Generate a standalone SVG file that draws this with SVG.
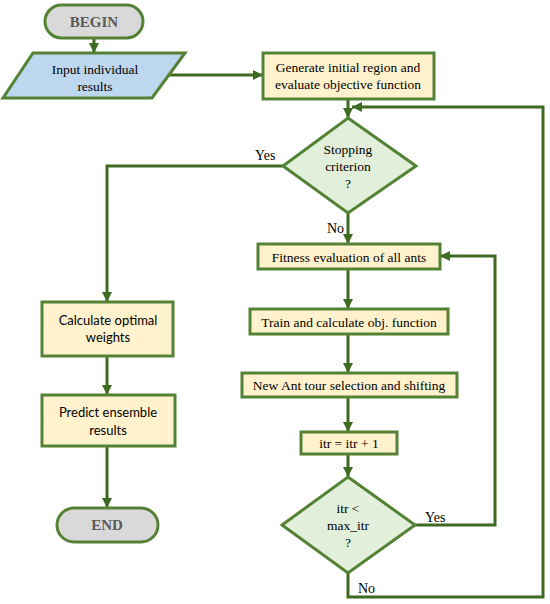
<svg xmlns="http://www.w3.org/2000/svg" width="550" height="604" viewBox="0 0 550 604">
<defs>
<marker id="ah" markerUnits="userSpaceOnUse" markerWidth="10" markerHeight="10" viewBox="0 0 10 10" refX="10" refY="5" orient="auto">
<path d="M0,0 L10,5 L0,10 z" fill="#3d6b21"/>
</marker>
</defs>
<style>
.box{fill:#fff2cc;stroke:#548235;stroke-width:3}
.dia{fill:#e2efda;stroke:#548235;stroke-width:3}
.term{fill:#d9d9d9;stroke:#548235;stroke-width:3}
.io{fill:#bdd7ee;stroke:#548235;stroke-width:3}
.ca{fill:none;stroke:#3d6b21;stroke-width:3;marker-end:url(#ah)}
.s{font-family:"Liberation Serif",serif;font-size:13.5px;fill:#000;text-anchor:middle}
.ss{font-family:Lato,"Open Sans",sans-serif;font-size:13px;fill:#000;text-anchor:middle}
.t{font-family:"Liberation Serif",serif;font-size:15px;font-weight:bold;fill:#595959;text-anchor:middle}
.l{font-family:"Liberation Serif",serif;font-size:14px;fill:#000}
</style>
<rect width="550" height="604" fill="#fff"/>
<g id="connectors">
<path class="ca" d="M94,38 V53"/>
<path class="ca" d="M168,75 H263"/>
<path class="ca" d="M348,99 V118"/>
<path class="ca" d="M283,166 H107 V302"/>
<path class="ca" d="M348,213 V244"/>
<path class="ca" d="M348,269 V309"/>
<path class="ca" d="M348,334 V373"/>
<path class="ca" d="M348,397 V432"/>
<path class="ca" d="M348,454 V477"/>
<path class="ca" d="M415,525 H495 V256 H440"/>
<path class="ca" d="M348,573 V597 H543 V107 H352"/>
<path class="ca" d="M107,356 V395"/>
<path class="ca" d="M107,446 V508"/>
<text class="l" x="255" y="160">Yes</text>
<text class="l" x="327" y="233">No</text>
<text class="l" x="425" y="522">Yes</text>
<text class="l" x="358" y="593">No</text>
</g>
<g id="begin">
<rect class="term" x="45" y="5" width="98" height="33" rx="16.5"/>
<text class="t" x="94" y="27">BEGIN</text>
</g>
<g id="input">
<polygon class="io" points="33,53 185,53 152,98 3,98"/>
<text class="s" x="95" y="74">Input individual</text>
<text class="s" x="95" y="91">results</text>
</g>
<g id="generate">
<rect class="box" x="263" y="53" width="171" height="46"/>
<text class="s" x="348" y="72">Generate initial region and</text>
<text class="s" x="348" y="89">evaluate objective function</text>
</g>
<g id="stopping">
<polygon class="dia" points="348,118 416,166 348,213 283,166"/>
<text class="s" x="348" y="154">Stopping</text>
<text class="s" x="348" y="171">criterion</text>
<text class="s" x="348" y="188">?</text>
</g>
<g id="fitness">
<rect class="box" x="258" y="244" width="182" height="25"/>
<text class="s" x="349" y="261.5">Fitness evaluation of all ants</text>
</g>
<g id="train">
<rect class="box" x="250" y="309" width="198" height="25"/>
<text class="s" x="349" y="326.5">Train and calculate obj. function</text>
</g>
<g id="newant">
<rect class="box" x="242" y="373" width="215" height="24"/>
<text class="s" x="349" y="390">New Ant tour selection and shifting</text>
</g>
<g id="itr">
<rect class="box" x="301" y="432" width="96" height="22"/>
<text class="s" x="349" y="448">itr = itr + 1</text>
</g>
<g id="maxitr">
<polygon class="dia" points="348,477 415,525 348,573 282,525"/>
<text class="s" x="348" y="513">itr &lt;</text>
<text class="s" x="348" y="530">max_itr</text>
<text class="s" x="348" y="547">?</text>
</g>
<g id="calculate">
<rect class="box" x="42" y="302" width="131" height="54"/>
<text class="ss" x="108" y="325">Calculate optimal</text>
<text class="ss" x="108" y="342">weights</text>
</g>
<g id="predict">
<rect class="box" x="42" y="395" width="133" height="51"/>
<text class="ss" x="108" y="417">Predict ensemble</text>
<text class="ss" x="108" y="435">results</text>
</g>
<g id="end">
<rect class="term" x="57" y="508" width="101" height="34" rx="17"/>
<text class="t" x="107" y="530">END</text>
</g>
</svg>
